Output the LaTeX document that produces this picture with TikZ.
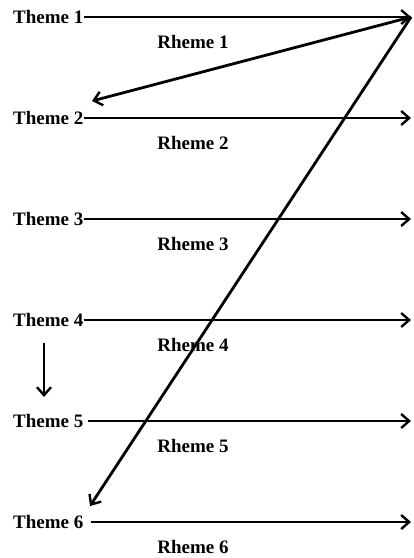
\documentclass[tikz,border=0pt]{standalone}
\usepackage{fontspec}
\setmainfont{Liberation Serif}
\usetikzlibrary{arrows.meta, positioning, calc}

\tikzset{
  label/.style={font=\bfseries\fontsize{19}{21}\selectfont, inner sep=0pt},
  flow/.style={line width=2.8pt, -{Straight Barb[length=8pt, width=14pt, line width=2.4pt]}}
}

\begin{document}
\begin{tikzpicture}[x=1pt, y=-1pt]
\useasboundingbox (0,0) rectangle (414,558);

% Theme / Rheme rows
\foreach \i/\gap in {1/0,2/0,3/0,4/0,5/4,6/7} {
  \pgfmathsetmacro{\ypos}{17+101*(\i-1)}
  \node[label, anchor=west] (t\i) at (13,\ypos) {Theme \i};
  \coordinate (e\i) at (411,\ypos);
  \node[label] (r\i) at (193,\ypos+25) {Rheme \i};
  \draw[flow, shorten <=\gap pt] (t\i.east) -- (e\i);
}

% Jumps back from the end of Rheme 1
\coordinate (a2) at (92,101);
\coordinate (a6) at (90,506);
\draw[flow] (e1) -- (a2);
\draw[flow] (e1) -- (a6);

% Downward progression
\coordinate (d1) at (44,343);
\coordinate (d2) at (44,397);
\draw[flow] (d1) -- (d2);
\end{tikzpicture}
\end{document}
